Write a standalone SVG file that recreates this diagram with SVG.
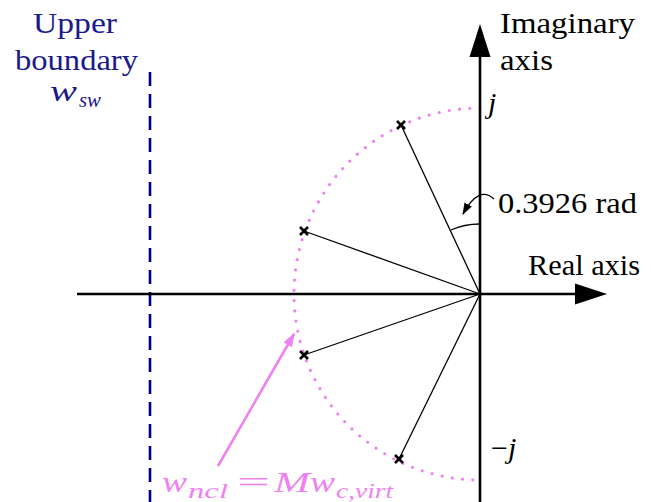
<svg xmlns="http://www.w3.org/2000/svg" width="651" height="502" viewBox="0 0 651 502">
<defs>
<style>
text{font-family:"Liberation Serif","DejaVu Serif",serif}
.t{font-size:30px;fill:#000}
.m{font-style:italic;font-size:30px}
.s{font-style:italic;font-size:21px}
.ray{stroke:#000;stroke-width:1.3;fill:none}
.cr{stroke:#000;stroke-width:2.6}
.pk{fill:#EE82EE}
.nv{fill:#1a1a8c}
</style>
<marker id="ap" viewBox="0 0 10 10" refX="9" refY="5" markerWidth="14" markerHeight="14" orient="auto" markerUnits="userSpaceOnUse"><path d="M0,1.5 L10,5 L0,8.5 z" fill="#EE82EE"/></marker>
<marker id="ak" viewBox="0 0 10 10" refX="9" refY="5" markerWidth="12" markerHeight="12" orient="auto" markerUnits="userSpaceOnUse"><path d="M0,1.5 L10,5 L0,8.5 z" fill="#000"/></marker>
</defs>
<rect width="651" height="502" fill="#fff"/>
<g id="connectors">
<path d="M480,108 A186,186 0 0 0 480,480" fill="none" stroke="#EE82EE" stroke-width="3.2" stroke-linecap="round" stroke-dasharray="0 10.3"/>
<line x1="150" y1="72" x2="150" y2="502" stroke="#00008B" stroke-width="2.6" stroke-dasharray="14 8"/>
<line x1="77" y1="294" x2="578" y2="294" stroke="#000" stroke-width="2.6"/>
<path d="M607,294 L575,283.5 L575,304.5 z" fill="#000"/>
<line x1="480" y1="502" x2="480" y2="54" stroke="#000" stroke-width="2.6"/>
<path d="M480,24 L469.5,57 L490.5,57 z" fill="#000"/>
<line class="ray" x1="480" y1="294" x2="401" y2="125"/>
<line class="ray" x1="480" y1="294" x2="304" y2="231"/>
<line class="ray" x1="480" y1="294" x2="304" y2="355"/>
<line class="ray" x1="480" y1="294" x2="399" y2="459"/>
<path d="M451,230 A70,70 0 0 1 480,224" class="ray"/>
<path d="M494,199 C484,190 474,194 463,214" class="ray" marker-end="url(#ak)" stroke-width="1.5"/>
<line x1="218" y1="466" x2="294" y2="334" stroke="#EE82EE" stroke-width="2.6" marker-end="url(#ap)"/>
</g>
<g id="p1"><path class="cr" d="M397,121 L405,129 M405,121 L397,129"/></g>
<g id="p2"><path class="cr" d="M300,227 L308,235 M308,227 L300,235"/></g>
<g id="p3"><path class="cr" d="M300,351 L308,359 M308,351 L300,359"/></g>
<g id="p4"><path class="cr" d="M395,455 L403,463 M403,455 L395,463"/></g>
<g id="upper-label">
<text class="t nv" x="33" y="33" textLength="84" lengthAdjust="spacingAndGlyphs">Upper</text>
<text class="t nv" x="15" y="70" textLength="123" lengthAdjust="spacingAndGlyphs">boundary</text>
<text class="m nv" x="50" y="101" textLength="27" lengthAdjust="spacingAndGlyphs">w</text>
<text class="s nv" x="79" y="107" textLength="22" lengthAdjust="spacingAndGlyphs">sw</text>
</g>
<g id="imag-label">
<text class="t" x="500" y="33" textLength="135" lengthAdjust="spacingAndGlyphs">Imaginary</text>
<text class="t" x="500" y="70" textLength="53" lengthAdjust="spacingAndGlyphs">axis</text>
</g>
<g id="real-label"><text class="t" x="528" y="275" textLength="112" lengthAdjust="spacingAndGlyphs">Real axis</text></g>
<g id="angle-label"><text class="t" x="498" y="213" textLength="139" lengthAdjust="spacingAndGlyphs">0.3926 rad</text></g>
<g id="j-label"><text class="m" x="488" y="113">j</text></g>
<g id="mj-label"><text class="t" x="491" y="458">−<tspan class="m">j</tspan></text></g>
<g id="w-label">
<text class="m pk" x="162" y="492" textLength="25" lengthAdjust="spacingAndGlyphs">w</text>
<text class="s pk" x="188" y="498" textLength="40" lengthAdjust="spacingAndGlyphs">ncl</text>
<text class="t pk" x="237" y="492" textLength="33" lengthAdjust="spacingAndGlyphs">=</text>
<text class="m pk" x="274" y="492" textLength="36" lengthAdjust="spacingAndGlyphs">M</text>
<text class="m pk" x="310" y="492" textLength="25" lengthAdjust="spacingAndGlyphs">w</text>
<text class="s pk" x="336" y="498" textLength="57" lengthAdjust="spacingAndGlyphs">c,virt</text>
</g>
</svg>
